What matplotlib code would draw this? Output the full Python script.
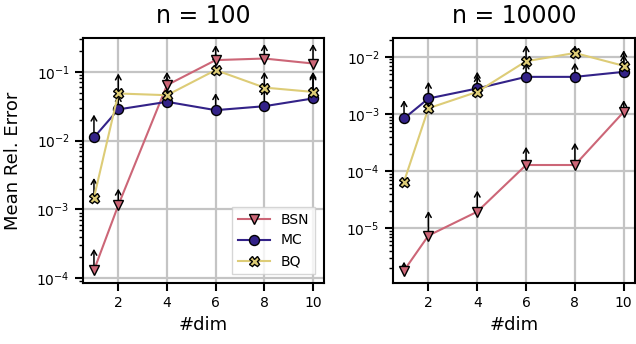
import matplotlib
matplotlib.use("Agg")
import matplotlib.pyplot as plt
import numpy as np

dims = [1, 2, 4, 6, 8, 10]
xticks = [2, 4, 6, 8, 10]

# n = 100
bsn_100 = [1.3e-4, 1.15e-3, 0.064, 0.148, 0.156, 0.132]
bsn_100_up = [2.67e-4, 2.0e-3, 0.10, 0.244, 0.253, 0.253]
mc_100 = [0.0111, 0.0284, 0.0366, 0.0277, 0.0316, 0.041]
mc_100_up = [0.0239, 0.046, 0.058, 0.049, 0.058, 0.10]
bq_100 = [1.48e-3, 0.0484, 0.0457, 0.106, 0.059, 0.051]
bq_100_up = [2.86e-3, 0.0946, 0.085, 0.185, 0.10, 0.095]

# n = 10000
bsn_1e4 = [1.82e-6, 7.44e-6, 1.95e-5, 1.28e-4, 1.28e-4, 1.09e-3]
bsn_1e4_up = [2.6e-6, 2.0e-5, 4.55e-5, 2.67e-4, 3.14e-4, 1.75e-3]
mc_1e4 = [8.36e-4, 1.87e-3, 2.8e-3, 4.47e-3, 4.47e-3, 5.47e-3]
mc_1e4_up = [1.75e-3, 3.66e-3, 5.5e-3, 8.0e-3, 7.9e-3, 1.11e-2]
bq_1e4 = [6.55e-5, 1.26e-3, 2.44e-3, 8.4e-3, 1.17e-2, 6.97e-3]
bq_1e4_up = [7.8e-5, 1.85e-3, 4.8e-3, 1.6e-2, 1.6e-2, 1.31e-2]

titles = ["n = 100", "n = 10000"]
labels = ["BSN", "MC", "BQ"]
colors = ["#CC6677", "#332288", "#DDCC77"]
markers = ["v", "o", "X"]

fig = plt.figure(figsize=(6.36, 3.44), dpi=100)
ax1 = fig.add_axes([0.1305, 0.1773, 0.3789, 0.7122])
ax2 = fig.add_axes([0.618, 0.1773, 0.380, 0.7122])

panels = [
    (ax1, [(bsn_100, bsn_100_up), (mc_100, mc_100_up), (bq_100, bq_100_up)]),
    (ax2, [(bsn_1e4, bsn_1e4_up), (mc_1e4, mc_1e4_up), (bq_1e4, bq_1e4_up)]),
]

for i, (ax, series) in enumerate(panels):
    for (vals, ups), lab, c, m in zip(series, labels, colors, markers):
        for xv, yv, uv in zip(dims, vals, ups):
            ax.annotate("", xy=(xv, uv), xytext=(xv, yv), xycoords="data",
                        arrowprops=dict(arrowstyle="->,head_length=0.35,head_width=0.2",
                                        color="black", lw=1.1, shrinkA=0, shrinkB=0),
                        zorder=2, annotation_clip=False)
        ax.plot(dims, vals, color=c, marker=m, markersize=7.2, markerfacecolor=c,
                markeredgecolor="black", markeredgewidth=1.0, linewidth=1.5,
                label=lab, zorder=3)
    ax.set_yscale("log")
    ax.set_xlim(0.55, 10.45)
    ax.set_xticks(xticks)
    ax.set_xticklabels([str(t) for t in xticks])
    ax.grid(True, which="major", color="#c4c4c4", linewidth=1.6)
    ax.set_axisbelow(True)
    for s in ax.spines.values():
        s.set_linewidth(1.5)
        s.set_color("black")
    ax.tick_params(axis="both", which="major", length=5.5, width=1.5, labelsize=10, pad=4)
    ax.tick_params(axis="y", which="minor", length=3, width=1.0)
    ax.set_title(titles[i], fontsize=17, pad=11)
    ax.set_xlabel("#dim", fontsize=13, labelpad=4)

ax1.set_ylim(8.5e-5, 0.31)
ax2.set_ylim(1.1e-6, 0.0214)
ax1.set_ylabel("Mean Rel. Error", fontsize=13, labelpad=10)
ax1.legend(loc="lower right", fontsize=10, framealpha=0.8, edgecolor="#cccccc",
           fancybox=False, handlelength=2.3, borderaxespad=0.65)

fig.savefig("out.png", dpi=100)
